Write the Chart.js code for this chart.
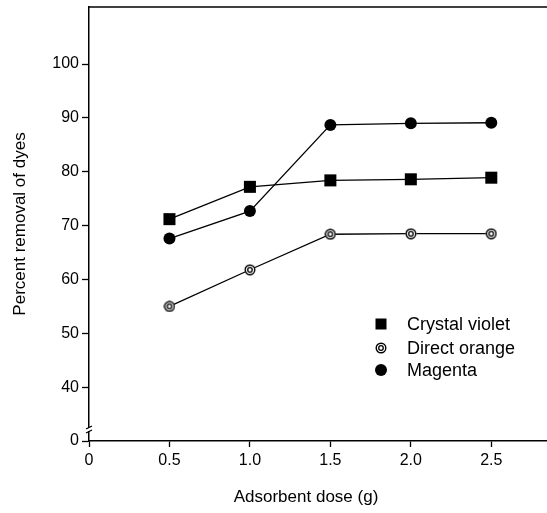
<!DOCTYPE html>
<html>
<head>
<meta charset="utf-8">
<script src="https://cdn.jsdelivr.net/npm/chart.js@4/dist/chart.umd.min.js"></script>
<style>
  html, body { margin: 0; padding: 0; background: #fff; }
  canvas { display: block; }
</style>
</head>
<body>
<canvas id="doseChart" width="547" height="513"></canvas>
<script>
// ===== 数据 =====
const doses = [0.5, 1.0, 1.5, 2.0, 2.5];
const crystalViolet = [71.2, 77.2, 78.4, 78.6, 78.9];
const directOrange = [55.0, 61.8, 68.4, 68.5, 68.5];
const magenta = [67.6, 72.7, 88.7, 89.0, 89.1];

const seriesNames = ['Crystal violet', 'Direct orange', 'Magenta'];
const xTitle = 'Adsorbent dose (g)';

// y 轴有断点：30 的位置标成 "0"
const yTickValues = [30, 40, 50, 60, 70, 80, 90, 100];
const yTickLabels = ['0', '40', '50', '60', '70', '80', '90', '100'];
const xTickValues = [0, 0.5, 1.0, 1.5, 2.0, 2.5];
const xTickLabels = ['0', '0.5', '1.0', '1.5', '2.0', '2.5'];

const FONT = 'Liberation Sans, Arial, sans-serif';

// 双圈标记（Direct orange）
function ringMarker(size) {
    const c = document.createElement('canvas');
    c.width = size; c.height = size;
    const g = c.getContext('2d');
    const m = size / 2;
    g.fillStyle = '#fff';
    g.beginPath(); g.arc(m, m, m - 0.5, 0, Math.PI * 2); g.fill();
    g.strokeStyle = '#000';
    g.lineWidth = 1.4;
    g.beginPath(); g.arc(m, m, m - 1.2, 0, Math.PI * 2); g.stroke();
    g.lineWidth = 1.3;
    g.beginPath(); g.arc(m, m, m * 0.38, 0, Math.PI * 2); g.stroke();
    return c;
}
const ring = ringMarker(12);

function toPoints(ys) {
    return doses.map((d, i) => ({ x: d, y: ys[i] }));
}

// ===== 图例、上边框、断轴符号、x 轴标题 =====
const decorations = {
    id: 'decorations',
    afterDraw(chart) {
        const ctx = chart.ctx;
        const area = chart.chartArea;
        ctx.save();
        ctx.strokeStyle = '#000';
        ctx.lineWidth = 1.5;
        ctx.beginPath();
        ctx.moveTo(area.left, area.top);
        ctx.lineTo(chart.width, area.top);
        ctx.stroke();

        // 断轴
        const bx = area.left;
        ctx.fillStyle = '#fff';
        ctx.fillRect(bx - 2, 428, 4, 3);
        ctx.lineWidth = 1.2;
        ctx.beginPath();
        ctx.moveTo(bx - 3, 429); ctx.lineTo(bx + 3, 426);
        ctx.moveTo(bx - 3, 433); ctx.lineTo(bx + 3, 430);
        ctx.stroke();

        // 图例
        const rows = [324, 348, 370];
        const mx = 381;
        ctx.fillStyle = '#000';
        ctx.fillRect(mx - 5.5, rows[0] - 5.5, 11, 11);
        ctx.drawImage(ring, mx - 6, rows[1] - 6);
        ctx.beginPath();
        ctx.arc(mx, rows[2], 6, 0, Math.PI * 2);
        ctx.fill();

        ctx.font = '18px ' + FONT;
        ctx.textBaseline = 'middle';
        ctx.textAlign = 'left';
        seriesNames.forEach((name, i) => ctx.fillText(name, 407, rows[i] + 1));

        // x 轴标题（原图略偏左）
        ctx.font = '17px ' + FONT;
        ctx.textAlign = 'center';
        ctx.fillText(xTitle, 306, 497);
        ctx.restore();
    }
};

const ctx = document.getElementById('doseChart').getContext('2d');

const doseChart = new Chart(ctx, {
    type: 'scatter',
    data: {
        datasets: [
            {
                label: seriesNames[0],
                data: toPoints(crystalViolet),
                showLine: true,
                borderColor: '#000',
                borderWidth: 1.3,
                pointStyle: 'rect',
                pointRadius: 8.5,
                pointBackgroundColor: '#000',
                pointBorderWidth: 0
            },
            {
                label: seriesNames[1],
                data: toPoints(directOrange),
                showLine: true,
                borderColor: '#000',
                borderWidth: 1.3,
                pointStyle: ring
            },
            {
                label: seriesNames[2],
                data: toPoints(magenta),
                showLine: true,
                borderColor: '#000',
                borderWidth: 1.3,
                pointStyle: 'circle',
                pointRadius: 6,
                pointBackgroundColor: '#000',
                pointBorderWidth: 0
            }
        ]
    },
    options: {
        responsive: false,
        animation: false,
        devicePixelRatio: 1,
        layout: { autoPadding: false, padding: { top: 7, right: 1, left: 0, bottom: 0 } },
        plugins: {
            legend: { display: false },
            tooltip: { enabled: false }
        },
        scales: {
            x: {
                type: 'linear',
                min: 0,
                max: 2.84,
                afterBuildTicks: axis => { axis.ticks = xTickValues.map(v => ({ value: v })); },
                afterFit: axis => {
                    axis.height = 72;
                    axis.paddingLeft = 0;
                    axis.paddingRight = 0;
                },
                grid: { drawOnChartArea: false, tickLength: 6, tickColor: '#000', tickWidth: 1.3 },
                border: { display: true, color: '#000', width: 1.5 },
                ticks: {
                    color: '#000',
                    font: { family: FONT, size: 16 },
                    padding: 4,
                    maxRotation: 0,
                    callback: v => xTickLabels[xTickValues.indexOf(v)]
                },
                title: { display: false }
            },
            y: {
                type: 'linear',
                min: 30,
                max: 110.6,
                afterBuildTicks: axis => { axis.ticks = yTickValues.map(v => ({ value: v })); },
                afterFit: axis => {
                    axis.width = 89;
                    axis.paddingTop = 0;
                    axis.paddingBottom = 0;
                },
                grid: { drawOnChartArea: false, tickLength: 7, tickColor: '#000', tickWidth: 1.3 },
                border: { display: true, color: '#000', width: 1.5 },
                ticks: {
                    color: '#000',
                    font: { family: FONT, size: 16 },
                    padding: 3,
                    callback: v => yTickLabels[yTickValues.indexOf(v)]
                },
                title: {
                    display: true,
                    text: 'Percent removal of dyes',
                    color: '#000',
                    font: { family: FONT, size: 17 },
                    padding: { top: 10, bottom: 0 }
                }
            }
        }
    },
    plugins: [decorations]
});
</script>
</body>
</html>
